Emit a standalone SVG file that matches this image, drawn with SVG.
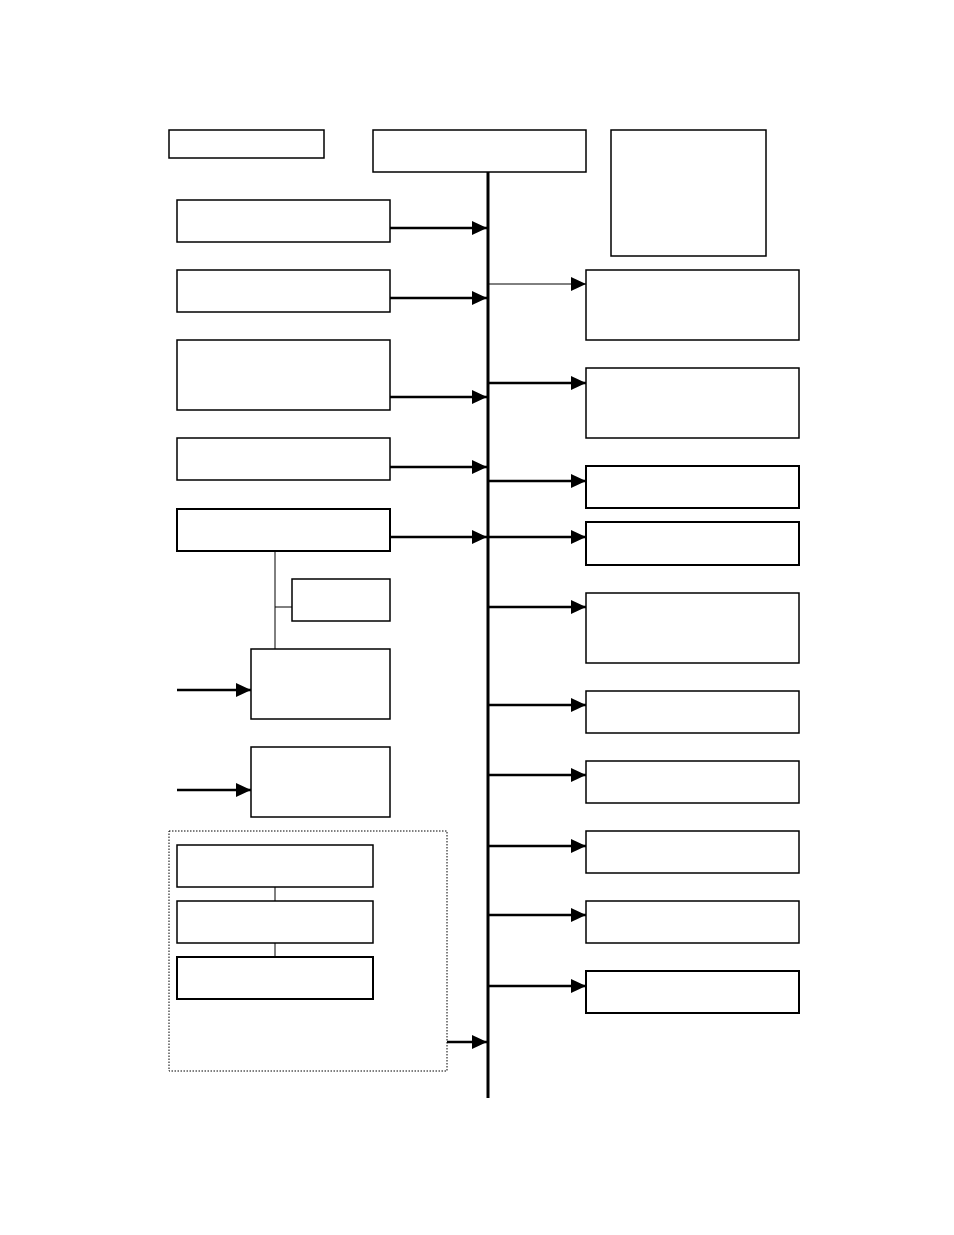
<svg xmlns="http://www.w3.org/2000/svg" width="954" height="1235" viewBox="0 0 954 1235">
<style>
rect{fill:#fff;stroke:#000;stroke-width:1.5}
.c line{stroke:#000;stroke-width:2.5}
.c .t{stroke-width:1}
</style>
<defs><marker id="a" viewBox="0 0 10 10" refX="10" refY="5" markerWidth="15" markerHeight="14" markerUnits="userSpaceOnUse" orient="auto" preserveAspectRatio="none"><path d="M0,0L10,5L0,10z"/></marker></defs>
<rect width="954" height="1235" style="stroke:none"/>
<g id="n0"><rect x="169" y="130" width="155" height="28"/></g>
<g id="n1"><rect x="373" y="130" width="213" height="42"/></g>
<g id="n2"><rect x="611" y="130" width="155" height="126"/></g>
<g id="l1"><rect x="177" y="200" width="213" height="42"/></g>
<g id="l2"><rect x="177" y="270" width="213" height="42"/></g>
<g id="l3"><rect x="177" y="340" width="213" height="70"/></g>
<g id="l4"><rect x="177" y="438" width="213" height="42"/></g>
<g id="l5"><rect x="177" y="509" width="213" height="42" style="stroke-width:2"/></g>
<g id="l6"><rect x="292" y="579" width="98" height="42"/></g>
<g id="l7"><rect x="251" y="649" width="139" height="70"/></g>
<g id="l8"><rect x="251" y="747" width="139" height="70"/></g>
<g id="grp"><rect x="169" y="831" width="278" height="240" style="stroke-dasharray:1.5 1.5;stroke-width:1"/></g>
<g id="g1"><rect x="177" y="845" width="196" height="42"/></g>
<g id="g2"><rect x="177" y="901" width="196" height="42"/></g>
<g id="g3"><rect x="177" y="957" width="196" height="42" style="stroke-width:2"/></g>
<g id="r1"><rect x="586" y="270" width="213" height="70"/></g>
<g id="r2"><rect x="586" y="368" width="213" height="70"/></g>
<g id="r3"><rect x="586" y="466" width="213" height="42" style="stroke-width:2"/></g>
<g id="r4"><rect x="586" y="522" width="213" height="43" style="stroke-width:2"/></g>
<g id="r5"><rect x="586" y="593" width="213" height="70"/></g>
<g id="r6"><rect x="586" y="691" width="213" height="42"/></g>
<g id="r7"><rect x="586" y="761" width="213" height="42"/></g>
<g id="r8"><rect x="586" y="831" width="213" height="42"/></g>
<g id="r9"><rect x="586" y="901" width="213" height="42"/></g>
<g id="r10"><rect x="586" y="971" width="213" height="42" style="stroke-width:2"/></g>
<g class="c" id="connectors">
<line x1="488" y1="172" x2="488" y2="1098" style="stroke-width:3"/>
<line x1="390" y1="228" x2="487" y2="228" marker-end="url(#a)"/>
<line x1="390" y1="298" x2="487" y2="298" marker-end="url(#a)"/>
<line x1="390" y1="397" x2="487" y2="397" marker-end="url(#a)"/>
<line x1="390" y1="467" x2="487" y2="467" marker-end="url(#a)"/>
<line x1="390" y1="537" x2="487" y2="537" marker-end="url(#a)"/>
<line x1="447" y1="1042" x2="487" y2="1042" marker-end="url(#a)"/>
<line x1="177" y1="690" x2="251" y2="690" marker-end="url(#a)"/>
<line x1="177" y1="790" x2="251" y2="790" marker-end="url(#a)"/>
<line class="t" x1="489" y1="284" x2="586" y2="284" marker-end="url(#a)"/>
<line x1="489" y1="383" x2="586" y2="383" marker-end="url(#a)"/>
<line x1="489" y1="481" x2="586" y2="481" marker-end="url(#a)"/>
<line x1="489" y1="537" x2="586" y2="537" marker-end="url(#a)"/>
<line x1="489" y1="607" x2="586" y2="607" marker-end="url(#a)"/>
<line x1="489" y1="705" x2="586" y2="705" marker-end="url(#a)"/>
<line x1="489" y1="775" x2="586" y2="775" marker-end="url(#a)"/>
<line x1="489" y1="846" x2="586" y2="846" marker-end="url(#a)"/>
<line x1="489" y1="915" x2="586" y2="915" marker-end="url(#a)"/>
<line x1="489" y1="986" x2="586" y2="986" marker-end="url(#a)"/>
<line class="t" x1="275" y1="551" x2="275" y2="649"/>
<line class="t" x1="275" y1="607" x2="292" y2="607"/>
<line class="t" x1="275" y1="887" x2="275" y2="901"/>
<line class="t" x1="275" y1="943" x2="275" y2="957"/>
</g>
</svg>
